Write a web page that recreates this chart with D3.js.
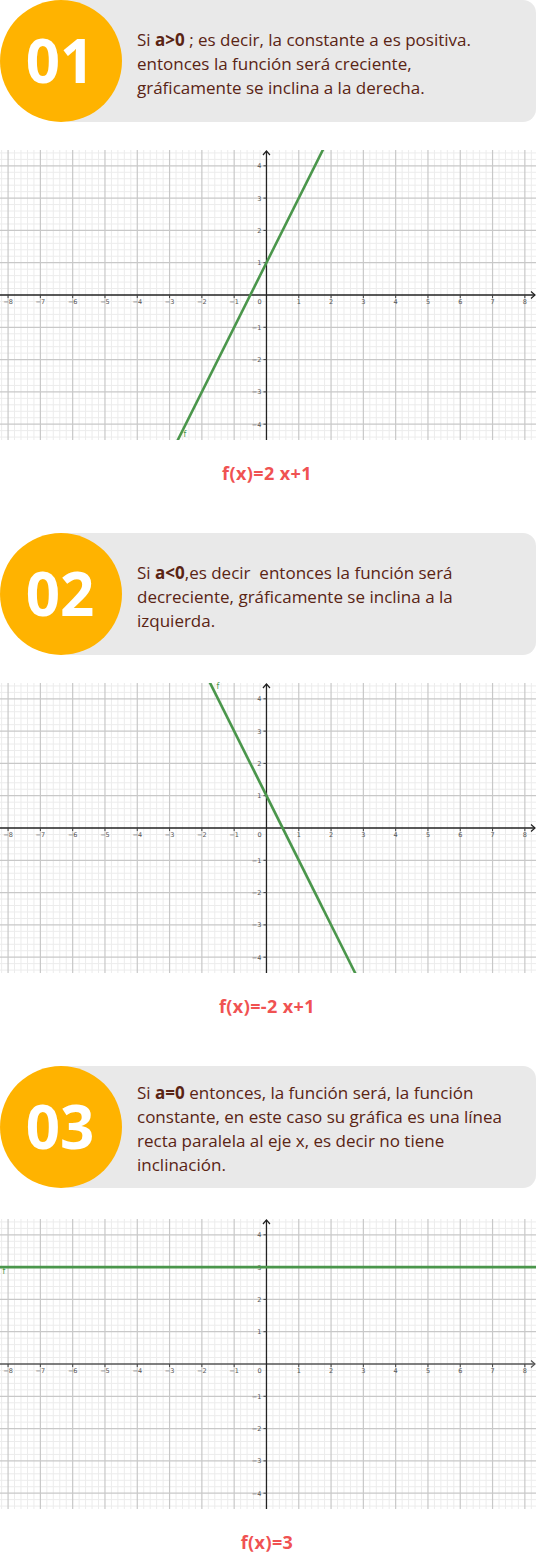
<!DOCTYPE html>
<html>
<head>
<meta charset="utf-8">
<script src="https://cdn.jsdelivr.net/npm/d3@7/dist/d3.min.js"></script>
<style>
  html, body { margin: 0; padding: 0; background: #fff; }
  svg { display: block; }
  .desc { white-space: pre; }
</style>
</head>
<body>
<svg id="chart" width="536" height="1556"></svg>
<script>
// ---------- DATA ----------
const sectionNumbers = ["01", "02", "03"];
const descriptions = [
  [
    [["Si ", false], ["a>0", true], [" ; es decir, la constante a es positiva.", false]],
    [["entonces la función será creciente,", false]],
    [["gráficamente se inclina a la derecha.", false]]
  ],
  [
    [["Si ", false], ["a<0", true], [",es decir  entonces la función será", false]],
    [["decreciente, gráficamente se inclina a la", false]],
    [["izquierda.", false]]
  ],
  [
    [["Si ", false], ["a=0", true], [" entonces, la función será, la función", false]],
    [["constante, en este caso su gráfica es una línea", false]],
    [["recta paralela al eje x, es decir no tiene", false]],
    [["inclinación.", false]]
  ]
];
const formulaTitles = ["f(x)=2 x+1", "f(x)=-2 x+1", "f(x)=3"];
const functionLabels = ["f", "f", "f"];
// line endpoints (x, y) for each function, clipped to view
const line1X = [-3, 2],  line1Y = [-5, 5];
const line2X = [-2, 3],  line2Y = [5, -5];
const line3X = [-9, 9],  line3Y = [3, 3];
const linesX = [line1X, line2X, line3X];
const linesY = [line1Y, line2Y, line3Y];
const xTicks = [-8, -7, -6, -5, -4, -3, -2, -1, 1, 2, 3, 4, 5, 6, 7, 8];
const yTicks = [-4, -3, -2, -1, 1, 2, 3, 4];
const xDomain = [-8.25, 8.345];
const yDomain = [-4.49, 4.49];

// ---------- LAYOUT ----------
const W = 536;
const headerTops = [0, 533, 1066];
const headerH = 122;
const chartTops = [150, 683, 1219];
const chartH = 290;
const titleBaselines = [480, 1013, 1549];
const lineStartY = [46, 579, 1099];
const lineGap = 24;

const svg = d3.select("#chart");
svg.append("rect").attr("width", W).attr("height", 1556).attr("fill", "#fff");

const defs = svg.append("defs");
const minus = v => (v < 0 ? "\u2212" + Math.abs(v) : String(v));

sectionNumbers.forEach((num, i) => {
  const top = headerTops[i];
  const g = svg.append("g");
  g.append("rect")
    .attr("x", 58).attr("y", top).attr("width", W - 58).attr("height", headerH)
    .attr("rx", 13).attr("ry", 13)
    .attr("fill", "#e9e9e9");
  g.append("circle")
    .attr("cx", 61).attr("cy", top + 61).attr("r", 61)
    .attr("fill", "#ffb300");
  g.append("text")
    .attr("x", 60).attr("y", top + 61 + 22)
    .attr("text-anchor", "middle")
    .attr("font-family", "'Open Sans', sans-serif")
    .attr("font-weight", "700")
    .attr("font-size", 60)
    .attr("fill", "#fff")
    .text(num);
  descriptions[i].forEach((line, li) => {
    const t = g.append("text")
      .attr("class", "desc")
      .attr("x", 137).attr("y", lineStartY[i] + li * lineGap)
      .attr("font-family", "'Open Sans', sans-serif")
      .attr("font-size", 17)
      .attr("fill", "#5a2414");
    line.forEach(([txt, bold]) => {
      t.append("tspan").attr("font-weight", bold ? 700 : 400).text(txt);
    });
  });

  // ---------- CHART ----------
  const cTop = chartTops[i];
  const x = d3.scaleLinear().domain(xDomain).range([0, W]);
  const y = d3.scaleLinear().domain(yDomain).range([cTop + chartH, cTop]);
  const cg = svg.append("g");

  const clipId = "clip" + i;
  defs.append("clipPath").attr("id", clipId)
    .append("rect").attr("x", 0).attr("y", cTop).attr("width", W).attr("height", chartH);

  const minorX = d3.range(-8.4, 8.41, 0.2).map(v => Math.round(v * 10) / 10).filter(v => Math.abs(v - Math.round(v)) > 1e-6);
  const minorY = d3.range(-4.4, 4.41, 0.2).map(v => Math.round(v * 10) / 10).filter(v => Math.abs(v - Math.round(v)) > 1e-6);
  cg.append("g").selectAll("line").data(minorX).join("line")
    .attr("x1", d => x(d)).attr("x2", d => x(d))
    .attr("y1", cTop).attr("y2", cTop + chartH)
    .attr("stroke", "#ececec").attr("stroke-width", 1);
  cg.append("g").selectAll("line").data(minorY).join("line")
    .attr("x1", 0).attr("x2", W)
    .attr("y1", d => y(d)).attr("y2", d => y(d))
    .attr("stroke", "#ececec").attr("stroke-width", 1);
  cg.append("g").selectAll("line").data(xTicks).join("line")
    .attr("x1", d => x(d)).attr("x2", d => x(d))
    .attr("y1", cTop).attr("y2", cTop + chartH)
    .attr("stroke", "#c8c8c8").attr("stroke-width", 1.2);
  cg.append("g").selectAll("line").data(yTicks).join("line")
    .attr("x1", 0).attr("x2", W)
    .attr("y1", d => y(d)).attr("y2", d => y(d))
    .attr("stroke", "#c8c8c8").attr("stroke-width", 1.2);

  const axisColor = i === 2 ? "#555" : "#222";
  cg.append("line")
    .attr("x1", 0).attr("x2", W - 1)
    .attr("y1", y(0)).attr("y2", y(0))
    .attr("stroke", axisColor).attr("stroke-width", 1.3);
  cg.append("line")
    .attr("x1", x(0)).attr("x2", x(0))
    .attr("y1", cTop + 1).attr("y2", cTop + chartH)
    .attr("stroke", "#222").attr("stroke-width", 1.3);
  cg.append("path")
    .attr("d", `M${W - 5},${y(0) - 3.5} L${W - 1},${y(0)} L${W - 5},${y(0) + 3.5}`)
    .attr("fill", "none").attr("stroke", axisColor).attr("stroke-width", 1.2);
  cg.append("path")
    .attr("d", `M${x(0) - 3.5},${cTop + 5} L${x(0)},${cTop + 1} L${x(0) + 3.5},${cTop + 5}`)
    .attr("fill", "none").attr("stroke", "#222").attr("stroke-width", 1.2);

  cg.append("g").selectAll("line").data(xTicks).join("line")
    .attr("x1", d => x(d)).attr("x2", d => x(d))
    .attr("y1", y(0)).attr("y2", y(0) + 3)
    .attr("stroke", "#444").attr("stroke-width", 1);
  cg.append("g").selectAll("line").data(yTicks).join("line")
    .attr("x1", x(0) - 3).attr("x2", x(0))
    .attr("y1", d => y(d)).attr("y2", d => y(d))
    .attr("stroke", "#444").attr("stroke-width", 1);

  cg.append("g").selectAll("text").data(xTicks).join("text")
    .attr("x", d => x(d)).attr("y", y(0) + 8.5)
    .attr("text-anchor", "middle")
    .attr("font-family", "'DejaVu Sans', sans-serif")
    .attr("font-size", 6.5).attr("fill", "#555")
    .text(d => minus(d));
  cg.append("g").selectAll("text").data(yTicks).join("text")
    .attr("x", x(0) - 5).attr("y", d => y(d) + 2.4)
    .attr("text-anchor", "end")
    .attr("font-family", "'DejaVu Sans', sans-serif")
    .attr("font-size", 6.5).attr("fill", "#555")
    .text(d => minus(d));
  cg.append("text")
    .attr("x", x(0) - 7).attr("y", y(0) + 8.5)
    .attr("text-anchor", "middle")
    .attr("font-family", "'DejaVu Sans', sans-serif")
    .attr("font-size", 6.5).attr("fill", "#555")
    .text("0");

  const pts = linesX[i].map((vx, k) => [vx, linesY[i][k]]);
  cg.append("path")
    .attr("clip-path", `url(#${clipId})`)
    .attr("d", d3.line().x(d => x(d[0])).y(d => y(d[1]))(pts))
    .attr("fill", "none")
    .attr("stroke", "#4a964b")
    .attr("stroke-width", 2.6);

  const labelPos = [[185, 437], [218, 689], [4, 1274]];
  cg.append("text")
    .attr("x", labelPos[i][0]).attr("y", labelPos[i][1])
    .attr("text-anchor", "middle")
    .attr("font-family", "'DejaVu Sans', sans-serif")
    .attr("font-size", 8).attr("fill", "#4a964b")
    .text(functionLabels[i]);

  svg.append("text")
    .attr("x", 267).attr("y", titleBaselines[i])
    .attr("text-anchor", "middle")
    .attr("font-family", "'Open Sans', sans-serif")
    .attr("font-weight", 700)
    .attr("font-size", 18)
    .attr("letter-spacing", 0.4)
    .attr("fill", "#f05252")
    .text(formulaTitles[i]);
});
</script>
</body>
</html>
